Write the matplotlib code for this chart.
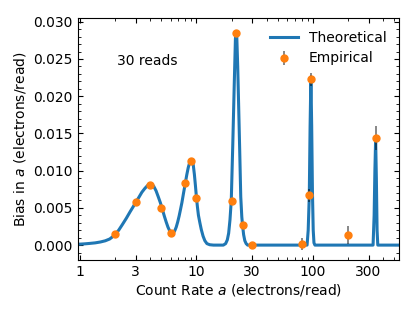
import matplotlib
matplotlib.use('Agg')
import matplotlib.pyplot as plt
from matplotlib.ticker import FixedLocator, FixedFormatter, MultipleLocator

# COURBE THEORIQUE
theory_rate = [0.9, 1.0, 1.1, 1.2, 1.35, 1.5, 1.65, 1.8, 1.9, 2.0, 2.15, 2.3, 2.5,
               2.7, 2.85, 3.0, 3.2, 3.4, 3.6, 3.8, 4.0, 4.15, 4.3, 4.5, 4.7, 4.9,
               5.1, 5.3, 5.5, 5.7, 5.9, 6.1, 6.3, 6.5, 6.7, 6.9, 7.1, 7.3, 7.5,
               7.75, 8.0, 8.25, 8.5, 8.75, 9.0, 9.2, 9.4, 9.6, 9.8, 10.0, 10.2,
               10.4, 10.7, 11.0, 11.4, 11.8, 12.3, 13.0, 14.0,
               17.0, 17.8, 18.4, 18.9, 19.4, 19.9, 20.5, 21.1, 21.6, 21.9, 22.2,
               22.6, 23.0, 23.5, 24.0, 24.5, 24.9, 25.4, 26.0, 26.7, 27.5,
               89, 91, 93, 94.5, 96, 97.5, 99, 100.5, 102, 104,
               328, 335, 340, 345, 350, 355, 360, 600]
theory_bias = [0.00010, 0.00013, 0.00017, 0.00022, 0.00030, 0.00042, 0.00058,
               0.00082, 0.0011, 0.0014, 0.0020, 0.0027, 0.0036, 0.0045, 0.0051,
               0.0057, 0.0064, 0.0071, 0.0076, 0.0080, 0.0081, 0.0081, 0.0079,
               0.0073, 0.0065, 0.0057, 0.0048, 0.0039, 0.0031, 0.0024, 0.0019,
               0.0016, 0.0016, 0.0019, 0.0024, 0.0031, 0.0039, 0.0048, 0.0057,
               0.0070, 0.0082, 0.0094, 0.0104, 0.0111, 0.0115, 0.0114, 0.0107,
               0.0095, 0.0080, 0.0064, 0.0051, 0.0040, 0.0030, 0.0021, 0.0012,
               0.0006, 0.0002, 0.00005, 0.0,
               0.0, 0.0002, 0.0007, 0.0016, 0.0034, 0.0060, 0.0135, 0.0215,
               0.0277, 0.0287, 0.0279, 0.0240, 0.0190, 0.0128, 0.0065, 0.0038,
               0.0026, 0.0014, 0.0006, 0.0002, 0.0,
               0.0, 0.0020, 0.0067, 0.0160, 0.0226, 0.0160, 0.0070, 0.0020,
               0.0003, 0.0,
               0.0, 0.0040, 0.0100, 0.0142, 0.0090, 0.0020, 0.0, 0.0]

# POINTS EMPIRIQUES
emp_rate = [2, 3, 4, 5, 6, 8, 9, 10, 20, 22, 25, 30, 80, 93, 96, 200, 345]
emp_bias = [0.00148, 0.00573, 0.00805, 0.00492, 0.00165, 0.00836, 0.0113, 0.00635,
            0.00595, 0.02855, 0.00264, 0.0000, 0.00017, 0.00667, 0.02228, 0.0013,
            0.01436]
emp_err = [0.0002, 0.0002, 0.0002, 0.0002, 0.0002, 0.0002, 0.0002, 0.0002,
           0.0003, 0.0003, 0.0003, 0.0003, 0.0008, 0.0009, 0.0009, 0.0012, 0.0016]

x_ticks = [1, 3, 10, 30, 100, 300]
x_tick_labels = ['1', '3', '10', '30', '100', '300']

fig = plt.figure(figsize=(4.15, 3.11), dpi=100)
ax = fig.add_axes([0.187, 0.164, 0.775, 0.778])

ax.plot(theory_rate, theory_bias, color='C0', lw=2.2, label='Theoretical')
ax.errorbar(emp_rate, emp_bias, yerr=emp_err, fmt='o', color='C1', ms=5,
            ecolor=(0, 0, 0, 0.55), elinewidth=1.2, label='Empirical')

ax.set_xscale('log')
ax.set_xlim(0.955, 550)
ax.set_ylim(-0.002, 0.0305)
ax.xaxis.set_major_locator(FixedLocator(x_ticks))
ax.xaxis.set_major_formatter(FixedFormatter(x_tick_labels))
ax.yaxis.set_major_locator(MultipleLocator(0.005))
ax.yaxis.set_minor_locator(MultipleLocator(0.001))
ax.tick_params(which='both', direction='in', top=True, right=True, labelsize=10)

ax.set_xlabel('Count Rate $a$ (electrons/read)', fontsize=10, labelpad=2)
ax.set_ylabel('Bias in $a$ (electrons/read)', fontsize=10)
ax.text(0.122, 0.822, '30 reads', transform=ax.transAxes, ha='left', va='center', fontsize=10)
ax.legend(loc='upper right', frameon=False, fontsize=10)

plt.savefig('out.png', dpi=100)
